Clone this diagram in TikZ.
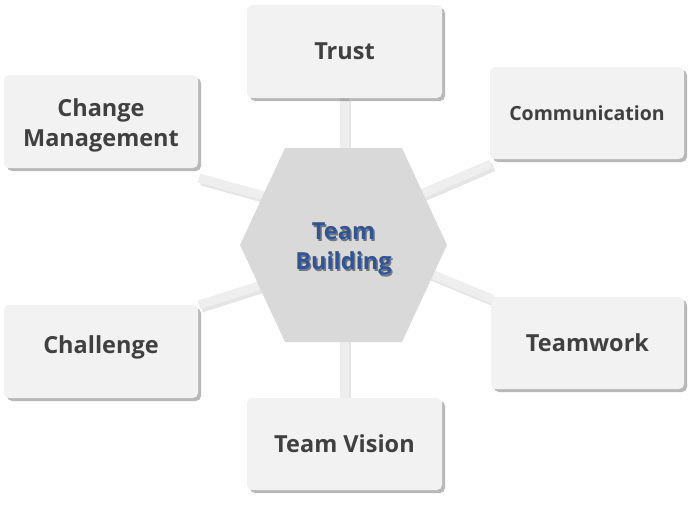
\documentclass[tikz,border=0pt]{standalone}
\usepackage{fontspec}
\setmainfont{Open Sans}
\usetikzlibrary{shadows}
\definecolor{boxfill}{HTML}{F2F2F2}
\definecolor{boxtext}{HTML}{404040}
\definecolor{hexfill}{HTML}{D9D9D9}
\definecolor{hubtext}{HTML}{2F5597}
\definecolor{barfill}{HTML}{EEEEEE}
\newcommand\shtext[1]{\rlap{\kern1.5pt\raisebox{-1.5pt}{\color{hexfill!55!black}#1}}#1}
\tikzset{
  topic/.style={rounded corners=5pt, fill=boxfill, text=boxtext, font=\bfseries\fontsize{23.5}{30}\selectfont,
    align=center, inner sep=0pt,
    drop shadow={shadow xshift=3pt, shadow yshift=-3pt, fill=black, opacity=0.28}},
  bar shadow/.style={line width=9pt, draw=black, opacity=0.10, line cap=butt},
  bar/.style={line width=9pt, draw=barfill, line cap=butt},
  hubfont/.style={font=\bfseries\fontsize{23.5}{30}\selectfont, align=center, inner sep=0pt}
}
\begin{document}
\begin{tikzpicture}[x=1pt,y=-1pt]
\useasboundingbox (0,0) rectangle (697,504);
% connector end points
\coordinate (tA) at (344,98);   \coordinate (tB) at (344,165);
\coordinate (vA) at (344,398);  \coordinate (vB) at (344,325);
\coordinate (cA) at (199,178);  \coordinate (cB) at (290,203);
\coordinate (mA) at (491,164);  \coordinate (mB) at (400,203);
\coordinate (hA) at (199,305);  \coordinate (hB) at (290,276);
\coordinate (wA) at (492,299);  \coordinate (wB) at (400,261);
% connector shadows
\foreach \a/\b in {tA/tB,vA/vB,cA/cB,mA/mB,hA/hB,wA/wB}{
  \draw[bar shadow] ([shift={(2.5,3)}]\a) -- ([shift={(2.5,3)}]\b);
}
% connectors
\foreach \a/\b in {tA/tB,vA/vB,cA/cB,mA/mB,hA/hB,wA/wB}{
  \draw[bar] (\a) -- (\b);
}
% hexagon
\coordinate (h1) at (240,245);
\coordinate (h2) at (285,148);
\coordinate (h3) at (402,148);
\coordinate (h4) at (447,245);
\coordinate (h5) at (402,342);
\coordinate (h6) at (285,342);
\fill[hexfill] (h1) -- (h2) -- (h3) -- (h4) -- (h5) -- (h6) -- cycle;
\node[hubfont, text=hubtext] (hub) at (343.5,250) {\shtext{Team}\\\shtext{Building}};
% boxes
\node[topic, minimum width=195pt, minimum height=93pt] (trust) at (344.5,51.5) {Trust};
\node[topic, minimum width=194pt, minimum height=92pt, font=\bfseries\fontsize{19.5}{24}\selectfont] (comm) at (587,113) {Communication};
\node[topic, minimum width=194pt, minimum height=93pt] (change) at (101,121.5) {\rule{0pt}{26.5pt}Change\\Management};
\node[topic, minimum width=194pt, minimum height=93pt, text height=17pt, text depth=14pt] (chal) at (101,351.5) {Challenge};
\node[topic, minimum width=193pt, minimum height=92pt] (work) at (587.5,343) {Teamwork};
\node[topic, minimum width=195pt, minimum height=92pt] (vision) at (344.5,444) {Team Vision};
\end{tikzpicture}
\end{document}
